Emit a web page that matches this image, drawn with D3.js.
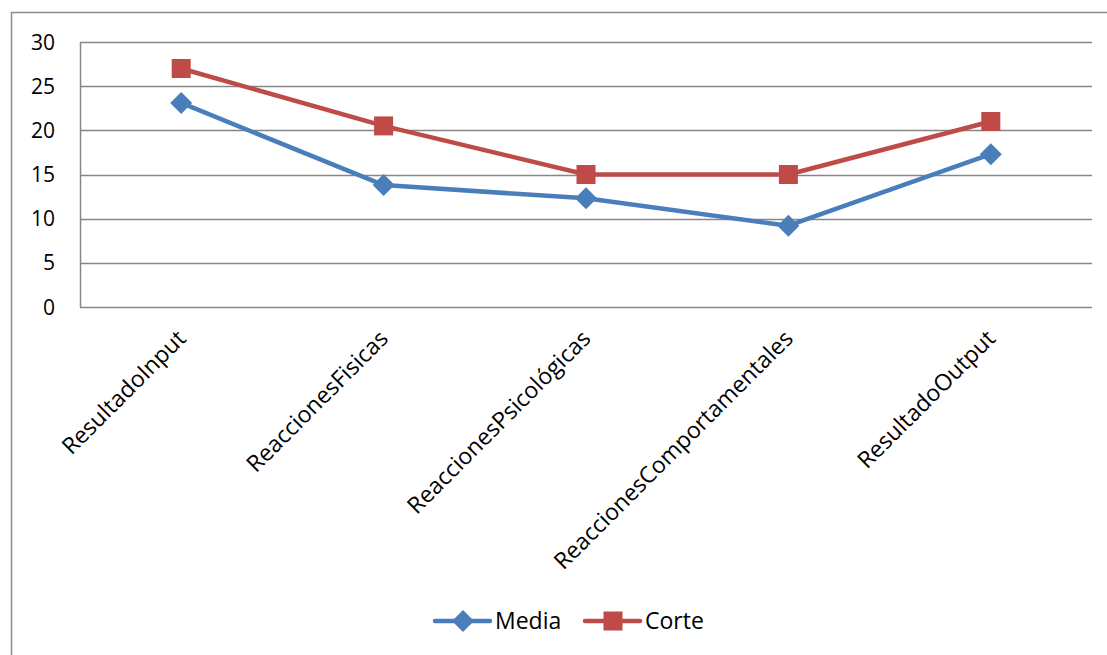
<!DOCTYPE html>
<html>
<head>
<meta charset="utf-8">
<script src="https://cdn.jsdelivr.net/npm/d3@7"></script>
<style>
  body { margin: 0; background: #fff; }
  text { font-family: "Open Sans", "Noto Sans", sans-serif; fill: #000; }
</style>
</head>
<body>
<div id="chart"></div>
<script>
// Datos del gráfico
const categorias = ['ResultadoInput', 'ReaccionesFisicas', 'ReaccionesPsicológicas', 'ReaccionesComportamentales', 'ResultadoOutput'];
const media = [23.1, 13.8, 12.3, 9.2, 17.3];
const corte = [27, 20.5, 15, 15, 21];
const ticksY = [0, 5, 10, 15, 20, 25, 30];

const series = [
    { nombre: 'Media', valores: media, color: '#4a7ebb', marca: 'diamond' },
    { nombre: 'Corte', valores: corte, color: '#be4b48', marca: 'square' }
];

const width = 1107;
const height = 655;
const margin = { top: 42, right: 15, bottom: 348, left: 80 };

const svg = d3.select('#chart')
    .append('svg')
    .attr('width', width)
    .attr('height', height);

// Marco exterior
svg.append('rect')
    .attr('x', 11.5).attr('y', 12.5)
    .attr('width', 1200).attr('height', 800)
    .attr('fill', 'none')
    .attr('stroke', '#8c8c8c')
    .attr('stroke-width', 1.5);

const x = d3.scaleBand()
    .domain(categorias)
    .range([margin.left, width - margin.right]);

const y = d3.scaleLinear()
    .domain([0, 30])
    .range([height - margin.bottom, margin.top]);

// Líneas de cuadrícula
svg.append('g')
    .selectAll('line')
    .data(ticksY)
    .enter()
    .append('line')
    .attr('x1', margin.left)
    .attr('x2', width - margin.right)
    .attr('y1', d => Math.round(y(d)) + 0.5)
    .attr('y2', d => Math.round(y(d)) + 0.5)
    .attr('stroke', '#868686')
    .attr('stroke-width', 1.5);

// Eje vertical
svg.append('line')
    .attr('x1', margin.left + 0.5).attr('x2', margin.left + 0.5)
    .attr('y1', y(30)).attr('y2', y(0))
    .attr('stroke', '#868686')
    .attr('stroke-width', 1.5);

// Etiquetas del eje Y
svg.append('g')
    .selectAll('text')
    .data(ticksY)
    .enter()
    .append('text')
    .attr('x', 55)
    .attr('y', d => y(d))
    .attr('dy', '0.36em')
    .attr('text-anchor', 'end')
    .attr('font-size', 21)
    .text(d => d);

// Etiquetas de categorías (rotadas)
svg.append('g')
    .selectAll('text')
    .data(categorias)
    .enter()
    .append('text')
    .attr('transform', d => `translate(${x(d) + x.bandwidth() / 2 + 6},${y(0) + 33}) rotate(-45)`)
    .attr('text-anchor', 'end')
    .attr('font-size', 23)
    .text(d => d);

const linea = d3.line()
    .x((d, i) => x(categorias[i]) + x.bandwidth() / 2)
    .y(d => y(d));

function dibujarMarca(g, tipo, color, cx, cy) {
    if (tipo === 'square') {
        g.append('rect')
            .attr('x', cx - 9.5).attr('y', cy - 9.5)
            .attr('width', 19).attr('height', 19)
            .attr('fill', color);
    } else {
        g.append('path')
            .attr('d', `M${cx},${cy - 11}L${cx + 11},${cy}L${cx},${cy + 11}L${cx - 11},${cy}Z`)
            .attr('fill', color);
    }
}

series.forEach(s => {
    svg.append('path')
        .datum(s.valores)
        .attr('d', linea)
        .attr('fill', 'none')
        .attr('stroke', s.color)
        .attr('stroke-width', 4.5)
        .attr('stroke-linejoin', 'round');

    const g = svg.append('g');
    s.valores.forEach((v, i) => {
        dibujarMarca(g, s.marca, s.color, x(categorias[i]) + x.bandwidth() / 2, y(v));
    });
});

// Leyenda
const leyendaX = [435, 585];
series.forEach((s, i) => {
    const lx = leyendaX[i];
    const ly = 621;
    const g = svg.append('g');
    g.append('line')
        .attr('x1', lx).attr('x2', lx + 55)
        .attr('y1', ly).attr('y2', ly)
        .attr('stroke', s.color)
        .attr('stroke-width', 4.5)
        .attr('stroke-linecap', 'round');
    dibujarMarca(g, s.marca, s.color, lx + 28, ly);
    g.append('text')
        .attr('x', lx + 60)
        .attr('y', ly)
        .attr('dy', '0.36em')
        .attr('font-size', 23)
        .text(s.nombre);
});
</script>
</body>
</html>
